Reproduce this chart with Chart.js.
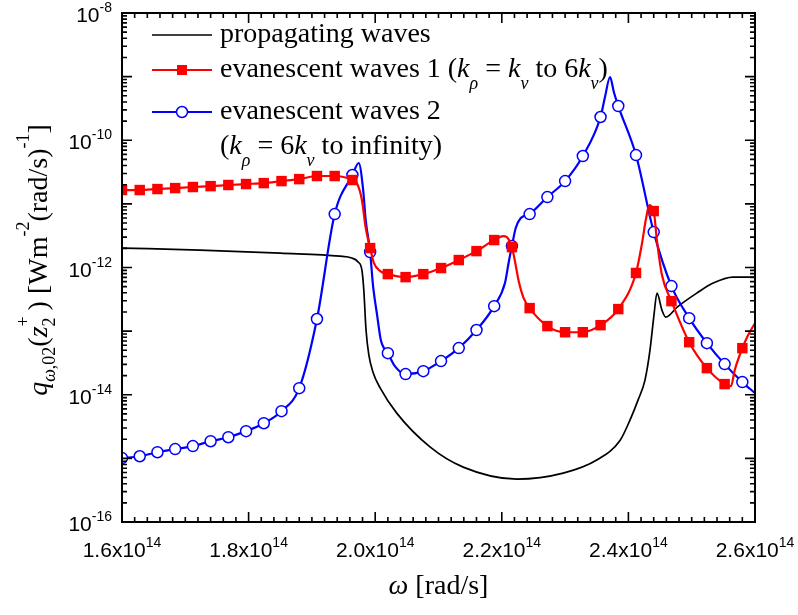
<!DOCTYPE html>
<html lang="en">
<head>
<meta charset="UTF-8">
<title>Spectral heat flux: propagating and evanescent waves</title>
<script src="https://cdn.jsdelivr.net/npm/chart.js"></script>
<style>
  html, body { margin: 0; padding: 0; background: #fff; }
  #wrap { width: 798px; height: 615px; }
</style>
</head>
<body>
<div id="wrap"><canvas id="fluxChart" width="798" height="615"></canvas></div>
<script>
// omega in units of 1e14 rad/s, q in W m^-2 (rad/s)^-1

// symbol positions shared by both evanescent curves
const markerOmega = [1.600, 1.628, 1.656, 1.684, 1.712, 1.740, 1.768, 1.796, 1.824, 1.852,
  1.880, 1.908, 1.936, 1.964, 1.992, 2.020, 2.048, 2.076, 2.104, 2.132,
  2.160, 2.188, 2.216, 2.244, 2.272, 2.300, 2.328, 2.356, 2.384, 2.412,
  2.440, 2.468, 2.496, 2.524, 2.552, 2.580];

// evanescent waves 1 (k_rho = k_v to 6k_v)
const evan1Markers = [1.65e-11, 1.65e-11, 1.71e-11, 1.77e-11, 1.84e-11, 1.90e-11, 1.98e-11, 2.05e-11, 2.12e-11, 2.28e-11,
  2.45e-11, 2.74e-11, 2.74e-11, 2.37e-11, 2.02e-12, 7.87e-13, 7.06e-13, 7.87e-13, 9.8e-13, 1.31e-12,
  1.81e-12, 2.70e-12, 2.09e-12, 2.30e-13, 1.20e-13, 9.6e-14, 9.6e-14, 1.24e-13, 2.22e-13, 8.2e-13,
  7.7e-12, 2.96e-13, 6.7e-14, 2.62e-14, 1.47e-14, 5.4e-14];
// extra curve points between symbols (sharp features)
const evan1ExtraOmega = [1.971, 1.979, 1.985, 1.998, 2.008, 2.202, 2.208, 2.221, 2.227, 2.234,
  2.421, 2.428, 2.433, 2.445, 2.453, 2.562, 2.568, 2.589, 2.600];
const evan1Extra = [2.12e-11, 1.15e-11, 4.2e-12, 1.17e-12, 8.8e-13, 3.12e-12, 3.0e-12, 1.22e-12, 5.9e-13, 3.4e-13,
  2.25e-12, 5.98e-12, 9.57e-12, 2.70e-12, 7.6e-13, 1.36e-14, 2.44e-14, 8.6e-14, 1.34e-13];

// evanescent waves 2 (k_rho = 6k_v to infinity)
const evan2Markers = [1.01e-15, 1.08e-15, 1.25e-15, 1.40e-15, 1.56e-15, 1.86e-15, 2.15e-15, 2.68e-15, 3.57e-15, 5.52e-15,
  1.27e-14, 1.55e-13, 6.92e-12, 2.84e-11, 1.75e-12, 4.51e-14, 2.11e-14, 2.35e-14, 3.38e-14, 5.41e-14,
  1.04e-13, 2.47e-13, 2.17e-12, 6.92e-12, 1.28e-11, 2.28e-11, 5.65e-11, 2.32e-10, 3.45e-10, 5.85e-11,
  3.60e-12, 5.10e-13, 1.60e-13, 6.47e-14, 3.03e-14, 1.58e-14];
const evan2ExtraOmega = [1.974, 1.981, 1.985, 1.9965, 2.003, 2.009, 2.031, 2.205, 2.211, 2.222,
  2.230, 2.363, 2.371, 2.377, 2.600];
const evan2Extra = [4.39e-11, 1.65e-11, 5.56e-12, 5.28e-13, 1.79e-13, 7.2e-14, 2.82e-14, 5.69e-13, 1.22e-12, 4.17e-12,
  5.98e-12, 4.77e-10, 9.87e-10, 5.73e-10, 1.06e-14];

// propagating waves
const propOmega = [1.600, 1.723, 1.850, 1.944, 1.963, 1.973, 1.979, 1.982, 1.9855, 1.990,
  1.9965, 2.008, 2.034, 2.087, 2.139, 2.224, 2.297, 2.350, 2.387, 2.4025,
  2.4152, 2.4262, 2.4341, 2.4404, 2.4452, 2.453, 2.459, 2.477, 2.508, 2.534, 2.565, 2.600];
const propValues = [2.02e-12, 1.88e-12, 1.68e-12, 1.51e-12, 1.41e-12, 1.22e-12, 9.1e-13, 4.42e-13, 1.04e-13, 4.2e-14,
  2.26e-14, 1.27e-14, 5.14e-15, 1.50e-15, 7.28e-16, 4.71e-16, 5.85e-16, 9.4e-16, 1.93e-15, 3.99e-15,
  8.22e-15, 1.70e-14, 5.02e-14, 1.79e-13, 3.95e-13, 2.14e-13, 1.66e-13, 2.38e-13, 3.95e-13, 5.69e-13, 7.06e-13, 7.06e-13];

const xTicks = [1.6, 1.8, 2.0, 2.2, 2.4, 2.6];
const yTickExps = [-8, -10, -12, -14, -16];

const SANS = '"Liberation Sans", Arial, sans-serif';
const SERIF = '"Liberation Serif", "Times New Roman", serif';
const RED = '#ff0000', BLUE = '#0000ff';

function pts(xs, ys) {
  return xs.map((x, i) => ({ x: x, y: ys[i] }));
}
function merged(xa, ya, xb, yb) {
  return pts(xa, ya).concat(pts(xb, yb)).sort((a, b) => a.x - b.x);
}

// runs: [text, font, dy, advance?]
function runsWidth(ctx, runs) {
  let w = 0;
  for (const r of runs) {
    ctx.font = r[1];
    if (r[3] !== 0) w += ctx.measureText(r[0]).width;
  }
  return w;
}
function drawRuns(ctx, x, y, runs) {
  let cx = x;
  for (const r of runs) {
    ctx.font = r[1];
    ctx.fillText(r[0], cx, y + (r[2] || 0));
    if (r[3] !== 0) cx += ctx.measureText(r[0]).width;
  }
}

const frameAndText = {
  id: 'frameAndText',
  afterDraw(chart) {
    const ctx = chart.ctx;
    const xs = chart.scales.x, ys = chart.scales.y;
    const { left, right, top, bottom } = chart.chartArea;
    ctx.save();
    ctx.strokeStyle = '#000';
    ctx.fillStyle = '#000';
    ctx.textAlign = 'left';
    ctx.textBaseline = 'alphabetic';

    // inward ticks on all four sides
    ctx.lineWidth = 1.6;
    ctx.beginPath();
    for (let i = 0; i <= 50; i++) {
      const px = xs.getPixelForValue(1.6 + i * 0.02);
      const len = i % 10 === 0 ? 10 : 5;
      ctx.moveTo(px, bottom); ctx.lineTo(px, bottom - len);
      ctx.moveTo(px, top); ctx.lineTo(px, top + len);
    }
    for (let e = -16; e <= -8; e++) {
      for (let m = 1; m <= 9; m++) {
        if (e === -8 && m > 1) break;
        const py = ys.getPixelForValue(m * Math.pow(10, e));
        const len = m === 1 ? 10 : 5;
        ctx.moveTo(left, py); ctx.lineTo(left + len, py);
        ctx.moveTo(right, py); ctx.lineTo(right - len, py);
      }
    }
    ctx.stroke();

    ctx.lineWidth = 2;
    ctx.strokeRect(left, top, right - left, bottom - top);

    // tick labels
    const tickFont = '21px ' + SANS, supFont = '14px ' + SANS;
    xTicks.forEach(v => {
      const runs = [[v.toFixed(1) + 'x10', tickFont], ['14', supFont, -10]];
      const w = runsWidth(ctx, runs);
      drawRuns(ctx, xs.getPixelForValue(v) - w / 2, 557, runs);
    });
    yTickExps.forEach(e => {
      const runs = [['10', tickFont], [String(e), supFont, -10]];
      const w = runsWidth(ctx, runs);
      drawRuns(ctx, 112 - w, ys.getPixelForValue(Math.pow(10, e)) + 9, runs);
    });

    // axis titles
    const big = '28px ' + SERIF, bigI = 'italic 28px ' + SERIF;
    const small = '18px ' + SERIF, smallI = 'italic 18px ' + SERIF;
    const xTitle = [['\u03c9', bigI], [' [rad/s]', big]];
    drawRuns(ctx, (left + right) / 2 - runsWidth(ctx, xTitle) / 2, 594, xTitle);

    const yTitle = [
      ['q', bigI], ['\u03c9', smallI, 8], [',02', small, 8],
      ['(', big], ['z', bigI], ['+', small, -18, 0], ['2', small, 8], [' )', big],
      [' [Wm', big], ['-2', small, -18], ['(rad/s)', big], ['-1', small, -18], [']', big]
    ];
    ctx.save();
    ctx.translate(47, 260);
    ctx.rotate(-Math.PI / 2);
    drawRuns(ctx, -runsWidth(ctx, yTitle) / 2, 0, yTitle);
    ctx.restore();

    // legend
    const lx0 = 152, lx1 = 212, mx = 182, tx = 220;
    ctx.lineWidth = 1.7;
    ctx.strokeStyle = '#000';
    ctx.beginPath(); ctx.moveTo(lx0, 35); ctx.lineTo(lx1, 35); ctx.stroke();
    ctx.lineWidth = 2.2;
    ctx.strokeStyle = RED;
    ctx.beginPath(); ctx.moveTo(lx0, 70); ctx.lineTo(lx1, 70); ctx.stroke();
    ctx.fillStyle = RED;
    ctx.fillRect(mx - 5, 65, 10, 10);
    ctx.strokeStyle = BLUE;
    ctx.beginPath(); ctx.moveTo(lx0, 112); ctx.lineTo(lx1, 112); ctx.stroke();
    ctx.fillStyle = '#fff';
    ctx.lineWidth = 1.5;
    ctx.beginPath(); ctx.arc(mx, 112, 5.5, 0, Math.PI * 2); ctx.fill(); ctx.stroke();

    ctx.fillStyle = '#000';
    drawRuns(ctx, tx, 42, [['propagating waves', big]]);
    drawRuns(ctx, tx, 77, [
      ['evanescent waves 1 (', big], ['k', bigI], ['\u03c1', smallI, 12], [' = ', big],
      ['k', bigI], ['\u03bd', smallI, 12], [' to 6', big], ['k', bigI], ['\u03bd', smallI, 12], [')', big]
    ]);
    drawRuns(ctx, tx, 119, [['evanescent waves 2', big]]);
    drawRuns(ctx, tx, 154, [
      ['(', big], ['k', bigI], ['\u03c1', smallI, 12], [' = 6', big],
      ['k', bigI], ['\u03bd', smallI, 12], [' to infinity)', big]
    ]);
    ctx.restore();
  }
};

new Chart(document.getElementById('fluxChart'), {
  type: 'line',
  data: {
    datasets: [
      {
        label: 'evanescent waves 1 symbols',
        data: pts(markerOmega, evan1Markers),
        showLine: false,
        pointStyle: 'rect',
        pointRadius: 7.4,
        pointBackgroundColor: RED,
        pointBorderColor: RED,
        pointBorderWidth: 0,
        clip: 0,
        order: 0
      },
      {
        label: 'evanescent waves 1',
        data: merged(markerOmega, evan1Markers, evan1ExtraOmega, evan1Extra),
        borderColor: RED,
        borderWidth: 2.2,
        pointRadius: 0,
        cubicInterpolationMode: 'monotone',
        clip: 0,
        order: 1
      },
      {
        label: 'evanescent waves 2 symbols',
        data: pts(markerOmega, evan2Markers),
        showLine: false,
        pointStyle: 'circle',
        pointRadius: 5.5,
        pointBackgroundColor: '#fff',
        pointBorderColor: BLUE,
        pointBorderWidth: 1.5,
        clip: 0,
        order: 2
      },
      {
        label: 'evanescent waves 2',
        data: merged(markerOmega, evan2Markers, evan2ExtraOmega, evan2Extra),
        borderColor: BLUE,
        borderWidth: 2.2,
        pointRadius: 0,
        cubicInterpolationMode: 'monotone',
        clip: 0,
        order: 3
      },
      {
        label: 'propagating waves',
        data: pts(propOmega, propValues),
        borderColor: '#000',
        borderWidth: 1.7,
        pointRadius: 0,
        cubicInterpolationMode: 'monotone',
        clip: 0,
        order: 4
      }
    ]
  },
  options: {
    responsive: false,
    animation: false,
    events: [],
    layout: { padding: { left: 122, right: 43, top: 13, bottom: 93 } },
    plugins: { legend: { display: false }, tooltip: { enabled: false } },
    scales: {
      x: { type: 'linear', min: 1.6, max: 2.6, display: false },
      y: { type: 'logarithmic', min: 1e-16, max: 1e-8, display: false }
    }
  },
  plugins: [frameAndText]
});
</script>
</body>
</html>
